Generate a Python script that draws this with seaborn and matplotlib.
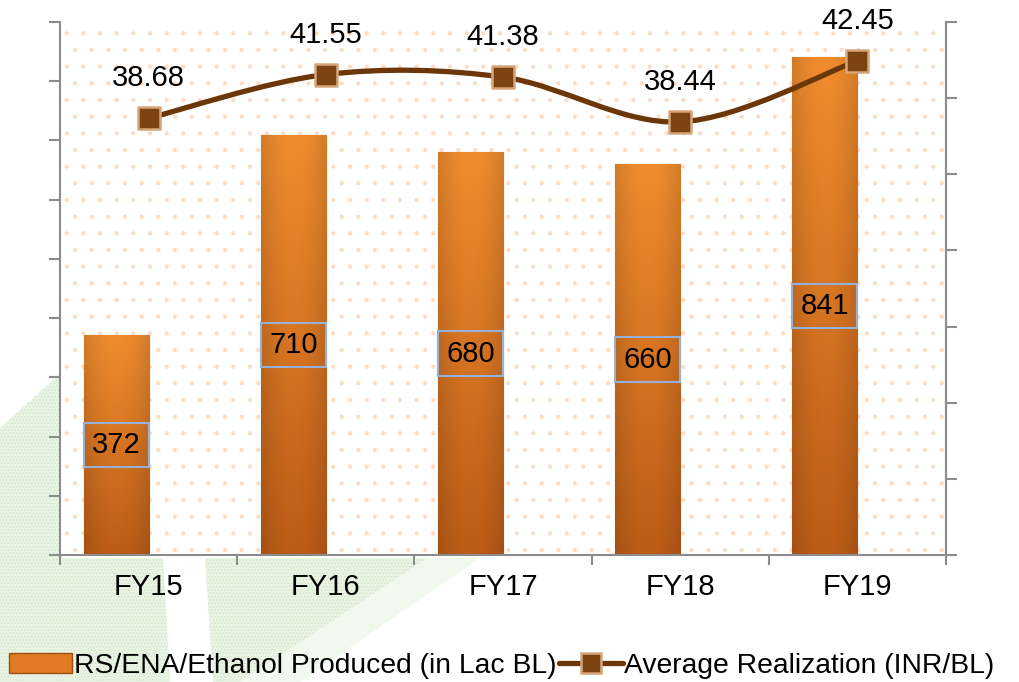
import numpy as np
import pandas as pd
import matplotlib
matplotlib.use('Agg')
import matplotlib.pyplot as plt
import seaborn as sns
from matplotlib.path import Path
from matplotlib.patches import PathPatch, Patch, Rectangle, Polygon
from matplotlib.lines import Line2D

# data
years = ['FY15', 'FY16', 'FY17', 'FY18', 'FY19']
produced = [372, 710, 680, 660, 841]
realization = [38.68, 41.55, 41.38, 38.44, 42.45]
bar_name = 'RS/ENA/Ethanol Produced (in Lac BL)'
line_name = 'Average Realization (INR/BL)'

W, H = 1019, 682
orange = '#E07A24'
brown = '#6B3608'
gray = '#8C8C8C'
fs = 21

sns.set_theme(style='white')
plt.rcParams['font.family'] = ['Liberation Sans', 'DejaVu Sans']
plt.rcParams['text.color'] = 'black'
plt.rcParams['hatch.linewidth'] = 0.6

fig = plt.figure(figsize=(W / 100, H / 100), dpi=100)
fig.patch.set_facecolor('white')


def fpx(pts):
    return [(x / W, 1 - y / H) for x, y in pts]


# faint green slide decoration at lower left
for pts, fc, hatch in [
    ([(0, 428), (62, 372), (62, 558), (163, 558), (170, 682), (0, 682)], '#e9f4e4', '.....'),
    ([(205, 558), (428, 558), (240, 682), (213, 682)], '#e9f4e4', '.....'),
    ([(428, 558), (480, 558), (300, 682), (240, 682)], '#f1f8ee', None),
]:
    fig.add_artist(Polygon(fpx(pts), closed=True, transform=fig.transFigure,
                           facecolor=fc, edgecolor='#cfe6c6', hatch=hatch, lw=0, zorder=-5))

ax = fig.add_axes([60 / W, 1 - 555 / H, 886 / W, 533 / H])
ax.patch.set_facecolor('white')
ax.add_patch(Rectangle((0, 0), 1, 1, transform=ax.transAxes, facecolor='white',
                       edgecolor='#FBDCC4', hatch='.', lw=0, zorder=0))

df = pd.DataFrame({'year': years, 'value': produced, 'series': 'bar'})
sns.barplot(data=df, x='year', y='value', hue='series', hue_order=['bar', 'gap'],
            palette=[orange, 'white'], dodge=True, width=0.734, legend=False,
            edgecolor='#9C4E12', linewidth=0.8, ax=ax)

# orange gradient on each bar
grad_v = np.linspace(0, 1, 120)[:, None]
grad_h = 1 - 0.12 * np.abs(np.linspace(-1, 1, 30))[None, :] ** 2
top = np.array([0.94, 0.55, 0.18])
bot = np.array([0.74, 0.36, 0.09])
img = (bot + (top - bot) * grad_v[..., None]) * grad_h[..., None]
for bar in ax.containers[0]:
    x0, y0 = bar.get_x(), bar.get_y()
    w, h = bar.get_width(), bar.get_height()
    im = ax.imshow(np.clip(img, 0, 1), extent=[x0, x0 + w, y0, y0 + h], origin='lower',
                   aspect='auto', zorder=2)
    im.set_clip_path(bar)
    bar.set_zorder(1.5)

ax.bar_label(ax.containers[0], fmt='%d', label_type='center', fontsize=fs, zorder=5,
             color='black',
             bbox=dict(boxstyle='square,pad=0.28', fc='none', ec='#96B1D8', lw=1.5))

ax.set_xlim(-0.5, len(years) - 0.5)
ax.set_ylim(0, 900)
ax.set_yticks(range(0, 1000, 100))
ax.set_xticks(np.arange(-0.5, len(years), 1), minor=True)
ax.set_xlabel('')
ax.set_ylabel('')
ax.tick_params(axis='y', left=True, direction='out', length=8, width=1.5, color=gray,
               labelleft=False)
ax.tick_params(axis='x', which='major', bottom=False, length=0, pad=13, labelsize=fs,
               labelcolor='black')
ax.tick_params(axis='x', which='minor', bottom=True, direction='out', length=7, width=1.5,
               color=gray)
ax.spines['top'].set_visible(False)
for s in ['left', 'bottom', 'right']:
    ax.spines[s].set_color(gray)
    ax.spines[s].set_linewidth(1.5)

# line on secondary axis
ax2 = ax.twinx()
ax2.set_ylim(10, 45)
ax2.set_yticks(range(10, 50, 5))
ax2.tick_params(axis='y', right=True, direction='out', length=8, width=1.5, color=gray,
                labelright=False)
for s in ['top', 'left', 'bottom']:
    ax2.spines[s].set_visible(False)
ax2.spines['right'].set_color(gray)
ax2.spines['right'].set_linewidth(1.5)

xs = np.arange(len(years), dtype=float)
ys = np.array(realization)
P = np.column_stack([xs, ys])
verts = [P[0]]
codes = [Path.MOVETO]
for i in range(len(P) - 1):
    p0 = P[i - 1] if i > 0 else P[i]
    p3 = P[i + 2] if i + 2 < len(P) else P[i + 1]
    c1 = P[i] + (P[i + 1] - p0) / 6
    c2 = P[i + 1] - (p3 - P[i]) / 6
    verts += [c1, c2, P[i + 1]]
    codes += [Path.CURVE4] * 3
ax2.add_patch(PathPatch(Path(verts, codes), fill=False, ec=brown, lw=3.8,
                        capstyle='round', zorder=3))

sns.scatterplot(x=xs, y=ys, marker='s', s=250, color='#7A4311', edgecolor='#D6A679',
                linewidth=1.8, zorder=4, legend=False, ax=ax2)

for x, v in zip(xs, realization):
    ax2.annotate(f'{v:.2f}', (x, v), xytext=(0, 40), textcoords='offset pixels',
                 ha='center', va='center', fontsize=fs, color='black')

ax2.set_xlim(-0.5, len(years) - 0.5)
ax2.set_ylabel('')

handles = [
    Patch(facecolor=orange, edgecolor='#9C4E12'),
    Line2D([0], [0], color=brown, lw=3.8, marker='s', markersize=15,
           markerfacecolor='#7A4311', markeredgecolor='#D6A679', markeredgewidth=1.8),
]
fig.legend(handles, [bar_name, line_name], loc='lower left', bbox_to_anchor=(0.006, 0.0),
           ncol=2, frameon=False, fontsize=20.3, handlelength=2.25, handletextpad=0.05,
           columnspacing=0.1, borderpad=0.1, borderaxespad=0, labelcolor='black')

fig.savefig('out.png', dpi=100)
